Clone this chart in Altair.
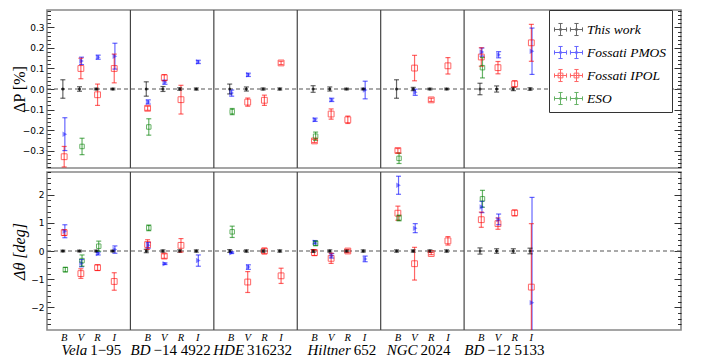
import json
import numpy as np
import pandas as pd
import altair as alt

# ---------------- data ----------------
star_italic = ["Vela", "BD", "HDE", "Hiltner", "NGC", "BD"]
star_roman = ["1\u221295", "\u221214 4922", "316232", "652", "2024", "\u221212 5133"]
bands = ["B", "V", "R", "I"]
series = ["This work", "Fossati PMOS", "Fossati IPOL", "ESO"]
N = None

# Delta P [%]  (star by star, bands B V R I)
dp_this = [0.0, 0.0, 0.0, 0.0, 0.0, 0.0, 0.0, 0.0, 0.0, 0.0, 0.0, 0.0,
           0.0, 0.0, 0.0, 0.0, 0.0, 0.0, 0.0, 0.0, 0.0, 0.0, 0.0, 0.0]
dp_this_err = [0.045, 0.011, 0.004, 0.004, 0.035, 0.012, 0.006, 0.005,
               0.024, 0.010, 0.005, 0.005, 0.016, 0.010, 0.004, 0.004,
               0.045, 0.008, 0.004, 0.004, 0.028, 0.015, 0.008, 0.006]
dp_pmos = [-0.22, 0.137, 0.155, 0.16, -0.063, 0.033, N, 0.132,
           -0.02, 0.069, N, N, -0.15, -0.053, N, -0.005,
           N, -0.016, N, N, 0.18, 0.167, N, 0.184]
dp_pmos_err = [0.08, 0.018, 0.01, 0.063, 0.01, 0.01, N, 0.008,
               0.015, 0.008, N, N, 0.008, 0.008, N, 0.043,
               N, 0.015, N, N, 0.02, 0.015, N, 0.113]
dp_ipol = [-0.33, 0.10, -0.028, 0.10, -0.094, 0.055, -0.052, N,
           N, -0.064, -0.055, 0.127, -0.253, -0.122, -0.15, N,
           -0.30, 0.102, -0.053, 0.113, 0.156, 0.104, 0.025, 0.225]
dp_ipol_err = [0.05, 0.05, 0.052, 0.07, 0.01, 0.015, 0.07, N,
               N, 0.02, 0.025, 0.008, 0.008, 0.025, 0.018, N,
               0.01, 0.062, 0.008, 0.04, 0.045, 0.03, 0.015, 0.09]
dp_eso = [N, -0.28, N, N, -0.185, N, N, N, -0.11, N, N, N,
          -0.23, N, N, N, -0.338, N, N, N, 0.104, N, N, N]
dp_eso_err = [N, 0.04, N, N, 0.04, N, N, N, 0.015, N, N, N,
              0.02, N, N, N, 0.025, N, N, N, 0.05, N, N, N]

# Delta theta [deg]
dt_this = [0.0, 0.0, 0.0, 0.0, 0.0, 0.0, 0.0, 0.0, 0.0, 0.0, 0.0, 0.0,
           0.0, 0.0, 0.0, 0.0, 0.0, 0.0, 0.0, 0.0, 0.0, 0.0, 0.0, 0.0]
dt_this_err = [0.03, 0.03, 0.03, 0.03, 0.06, 0.04, 0.04, 0.04,
               0.05, 0.04, 0.04, 0.04, 0.05, 0.04, 0.04, 0.04,
               0.04, 0.04, 0.04, 0.04, 0.11, 0.08, 0.08, 0.10]
dt_pmos = [0.70, -0.43, -0.09, 0.05, 0.20, -0.45, N, -0.34,
           -0.06, -0.57, N, N, 0.31, -0.17, N, -0.28,
           2.33, 0.81, N, N, 1.56, 1.12, N, -1.83]
dt_pmos_err = [0.23, 0.13, 0.05, 0.13, 0.10, 0.03, N, 0.20,
               0.03, 0.08, N, N, 0.06, 0.08, N, 0.10,
               0.32, 0.16, N, N, 0.20, 0.19, N, 3.73]
dt_ipol = [0.65, -0.80, -0.59, -1.08, 0.23, -0.18, 0.20, N,
           N, -1.10, 0.0, -0.88, -0.06, -0.26, 0.0, N,
           1.34, -0.45, -0.09, 0.36, 1.11, 0.97, 1.35, -1.28]
dt_ipol_err = [0.10, 0.17, 0.10, 0.31, 0.17, 0.08, 0.24, N,
               N, 0.37, 0.10, 0.27, 0.10, 0.18, 0.06, N,
               0.25, 0.58, 0.04, 0.15, 0.27, 0.20, 0.10, 2.25]
dt_eso = [-0.66, -0.34, 0.17, N, 0.82, N, N, N, 0.68, N, N, N,
          0.27, N, N, N, 1.17, N, N, N, 1.85, N, N, N]
dt_eso_err = [0.08, 0.20, 0.18, N, 0.10, N, N, N, 0.20, N, N, N,
              0.08, N, N, N, 0.10, N, N, N, 0.30, N, N, N]

# ---------------- style ----------------
colors = ["#000000", "#0000ff", "#ff0000", "#008000"]
offsets = [-0.05, 0.07, 0.03, 0.10]
W = 634
H_TOP, H_BOT = 158, 158
XDOM = [0, 38]
SERIF = "Liberation Serif"


def build(vals_list, errs_list):
    rows = []
    for name, vals, errs in zip(series, vals_list, errs_list):
        for k, (v, e) in enumerate(zip(vals, errs)):
            if v is None:
                continue
            rows.append(dict(series=name, s=k // len(bands), b=k % len(bands), val=v, err=e))
    return pd.DataFrame(rows)


df_p = build([dp_this, dp_pmos, dp_ipol, dp_eso], [dp_this_err, dp_pmos_err, dp_ipol_err, dp_eso_err])
df_t = build([dt_this, dt_pmos, dt_ipol, dt_eso], [dt_this_err, dt_pmos_err, dt_ipol_err, dt_eso_err])

off_expr = " : ".join(f"datum.series == '{s}' ? {o}" for s, o in zip(series, offsets)) + " : 0"
col_expr = " : ".join(f"datum.series == '{s}' ? '{c}'" for s, c in zip(series, colors)) + " : 'black'"
nb = len(bands) + 1

sep_df = pd.DataFrame({"sep": [nb * (i + 1) for i in range(len(star_italic) - 1)]})
star_df = pd.DataFrame({"s": list(range(len(star_italic))), "it": star_italic, "rm": star_roman})
band_vals = [s * nb + b + 1 for s in range(len(star_italic)) for b in range(len(bands))]


def cross(cx, h=0.43, c=0.15):
    return (f"M{cx-h},0H{cx+h}M{cx},{-h}V{h}M{cx-h},{-c}V{c}M{cx+h},{-c}V{c}"
            f"M{cx-c},{-h}H{cx+c}M{cx-c},{h}H{cx+c}")


def dot(cx, r=0.06):
    return f"M{cx-r},{-r}H{cx+r}V{r}H{cx-r}Z"


def sq(cx, r=0.17):
    return f"M{cx-r},{-r}H{cx+r}V{r}H{cx-r}Z"


legend_paths = [
    cross(-0.57) + cross(0.57) + dot(-0.57) + dot(0.57),
    cross(-0.57) + cross(0.57) + dot(-0.57) + dot(0.57),
    cross(-0.57) + cross(0.57) + sq(-0.57) + sq(0.57),
    cross(-0.57) + cross(0.57) + dot(-0.57) + dot(0.57),
]


def panel(df, dom, major, minor, title, title_style, bottom, H):
    xscale = alt.Scale(domain=XDOM, nice=False, zero=False)
    if bottom:
        xaxis = alt.Axis(values=band_vals, ticks=False, domain=False, grid=False,
                         labelExpr=f"{json.dumps(bands)}[(round(datum.value) - 1) % {nb}]",
                         labelFont=SERIF, labelFontStyle="italic", labelFontSize=10.5,
                         labelColor="black", labelPadding=2, title=None)
    else:
        xaxis = None
    yscale = alt.Scale(domain=dom, nice=False, zero=False)
    minor_vals = [round(v, 3) for v in np.arange(np.ceil(dom[0] / minor) * minor, dom[1] + 1e-9, minor)]
    major_vals = [round(v, 3) for v in np.arange(np.ceil(dom[0] / major) * major, dom[1] + 1e-9, major)]
    test = f"abs(datum.value / {major} - round(datum.value / {major})) < 0.001"
    tick_axis = dict(values=minor_vals, labels=False, domain=False, grid=False, title=None,
                     tickColor="black", tickWidth=0.8,
                     tickSize={"condition": {"test": test, "value": 7}, "value": 3.5})
    axis_in_left = alt.Axis(orient="right", offset=-W, **tick_axis)
    axis_in_right = alt.Axis(orient="left", offset=-W, **tick_axis)
    fmt = ".1f" if major < 1 else ".0f"
    axis_main = alt.Axis(orient="left", values=major_vals, ticks=False, domain=False, grid=False,
                         format=fmt, labelFont="DejaVu Sans", labelFontSize=9, labelColor="black",
                         labelPadding=3, title=title, titleFont=SERIF, titleFontSize=16,
                         titleFontStyle=title_style, titleFontWeight="normal", titleColor="black",
                         titleX=-20, titleY=H / 2, titleAngle=-90, titleBaseline="bottom",
                         titleAlign="center")

    base = alt.Chart(df).transform_calculate(
        xp=f"datum.s * {nb} + datum.b + 1 + ({off_expr})",
        lo="datum.val - datum.err", hi="datum.val + datum.err", col=col_expr)

    X = lambda f: alt.X(f, scale=xscale, axis=xaxis)

    seps = alt.Chart(sep_df).mark_rule(color="#444444", strokeWidth=1.2).encode(x=X("sep:Q"))
    zero = alt.Chart(pd.DataFrame({"z": [0.0]})).mark_rule(
        color="#555555", strokeDash=[4, 3], strokeWidth=1.2).encode(
        y=alt.Y("z:Q", scale=yscale, axis=axis_in_right))
    bars = base.mark_rule(clip=True, strokeWidth=1.2, opacity=0.6).encode(
        x=X("xp:Q"), y=alt.Y("lo:Q", scale=yscale, axis=axis_in_left), y2="hi:Q",
        color=alt.Color("col:N", scale=None))
    caps = base.transform_fold(["lo", "hi"], as_=["k", "yv"]).mark_point(
        shape="stroke", size=25, clip=True, strokeWidth=1.2, opacity=0.6).encode(
        x=X("xp:Q"), y=alt.Y("yv:Q", scale=yscale, axis=None),
        color=alt.Color("col:N", scale=None))
    p_black = base.transform_filter(f"datum.series == '{series[0]}'").mark_point(
        shape="circle", filled=True, size=10, color=colors[0], clip=True).encode(
        x=X("xp:Q"), y=alt.Y("val:Q", scale=yscale, axis=axis_main))
    p_blue = base.transform_filter(f"datum.series == '{series[1]}'").mark_point(
        shape="triangle-right", filled=True, size=30, color=colors[1], opacity=0.45, clip=True).encode(
        x=X("xp:Q"), y=alt.Y("val:Q", scale=yscale, axis=None))
    p_red = base.transform_filter(f"datum.series == '{series[2]}'").mark_point(
        shape="square", filled=False, size=34, color=colors[2], opacity=0.6, strokeWidth=1, clip=True).encode(
        x=X("xp:Q"), y=alt.Y("val:Q", scale=yscale, axis=None))
    p_green = base.transform_filter(f"datum.series == '{series[3]}'").mark_point(
        shape="square", filled=False, size=20, color=colors[3], opacity=0.6, strokeWidth=1, clip=True).encode(
        x=X("xp:Q"), y=alt.Y("val:Q", scale=yscale, axis=None))

    layers = [seps, zero, bars, caps, p_red, p_blue, p_green, p_black]

    if not bottom:
        leg = alt.Legend(title=None, orient="none", legendX=502, legendY=0, direction="vertical",
                         fillColor="white", strokeColor="#333333", padding=5, cornerRadius=0,
                         symbolSize=784, symbolStrokeWidth=1, symbolOpacity=0.75,
                         symbolFillColor="transparent",
                         labelFont=SERIF, labelFontStyle="italic", labelFontSize=13.5,
                         labelColor="black", labelOffset=4, rowPadding=-15)
        legend_layer = alt.Chart(df).transform_filter("false").mark_point(filled=False).encode(
            color=alt.Color("series:N", scale=alt.Scale(domain=series, range=colors), legend=leg),
            shape=alt.Shape("series:N", scale=alt.Scale(domain=series, range=legend_paths), legend=leg))
        layers.append(legend_layer)
    else:
        sbase = alt.Chart(star_df).transform_calculate(
            xs=f"datum.s * {nb} + {nb / 2} + (length(datum.it) - length(datum.rm)) * 0.2")
        t_it = sbase.mark_text(align="right", baseline="middle", font=SERIF, fontStyle="italic",
                               fontSize=15, color="black", dx=-1.5).encode(
            x=X("xs:Q"), y=alt.value(H + 20), text="it:N")
        t_rm = sbase.mark_text(align="left", baseline="middle", font=SERIF, fontSize=15,
                               color="black", dx=1.5).encode(
            x=X("xs:Q"), y=alt.value(H + 20), text="rm:N")
        layers += [t_it, t_rm]

    return alt.layer(*layers).properties(width=W, height=H).resolve_axis(y="independent")


top = panel(df_p, [-0.385, 0.385], 0.1, 0.02, "\u0394P [%]", "normal", False, H_TOP)
bot = panel(df_t, [-2.8, 2.8], 1, 0.2, "\u0394\u03b8 [deg]", "italic", True, H_BOT)

chart = alt.vconcat(top, bot, spacing=0).resolve_scale(
    color="independent", shape="independent").properties(
    padding={"left": 2, "top": 0, "right": 5, "bottom": 4}).configure_view(
    stroke="#888888", strokeWidth=1.6)

chart.save("out.html", embed_options={"renderer": "svg", "actions": False})
